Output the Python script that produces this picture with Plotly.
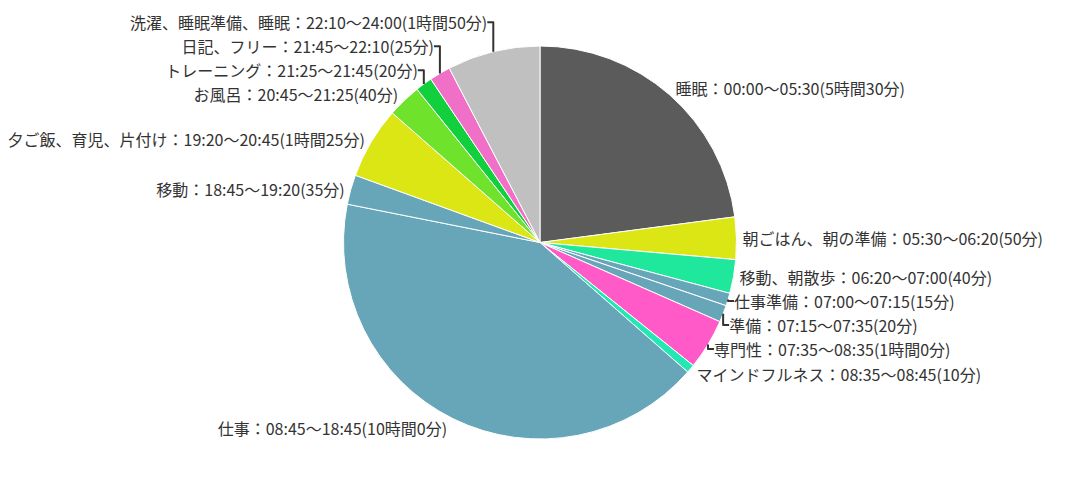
import plotly.graph_objects as go

## Données ---------------------------------------------------------------

activites = ["睡眠", "朝ごはん、朝の準備", "移動、朝散歩", "仕事準備", "準備", "専門性",
             "マインドフルネス", "仕事", "移動", "夕ご飯、育児、片付け", "お風呂",
             "トレーニング", "日記、フリー", "洗濯、睡眠準備、睡眠"]
debut = ["00:00", "05:30", "06:20", "07:00", "07:15", "07:35", "08:35", "08:45",
         "18:45", "19:20", "20:45", "21:25", "21:45", "22:10"]
fin = ["05:30", "06:20", "07:00", "07:15", "07:35", "08:35", "08:45", "18:45",
       "19:20", "20:45", "21:25", "21:45", "22:10", "24:00"]
minutes = [330, 50, 40, 15, 20, 60, 10, 600, 35, 85, 40, 20, 25, 110]
couleurs = ["#5b5b5b", "#dce614", "#1fe89c", "#66a6b8", "#66a6b8", "#ff5ac8",
            "#24e8b4", "#66a6b8", "#66a6b8", "#dce614", "#6fe32c", "#12cf3e",
            "#f070c8", "#c0c0c0"]


def duree(m):
    if m >= 60:
        return f"{m // 60}時間{m % 60}分"
    return f"{m}分"


labels = [f"{a}：{d}〜{f}({duree(m)})" for a, d, f, m in zip(activites, debut, fin, minutes)]

## Figure ----------------------------------------------------------------

fig = go.Figure(go.Pie(labels=labels, values=minutes, sort=False, direction="clockwise",
                       rotation=0, textinfo="label", textposition="outside",
                       marker=dict(colors=couleurs, line=dict(color="white", width=1)),
                       textfont=dict(size=16, color="#333333"),
                       domain=dict(x=[0, 1 - 16 / 1080], y=[0, 1]),
                       showlegend=False, automargin=False))

fig.update_layout(width=1080, height=481, paper_bgcolor="white",
                  margin=dict(l=0, r=0, t=38, b=50),
                  font=dict(family="Noto Sans CJK JP", size=16, color="#333333"))

fig.write_html("out.html")
